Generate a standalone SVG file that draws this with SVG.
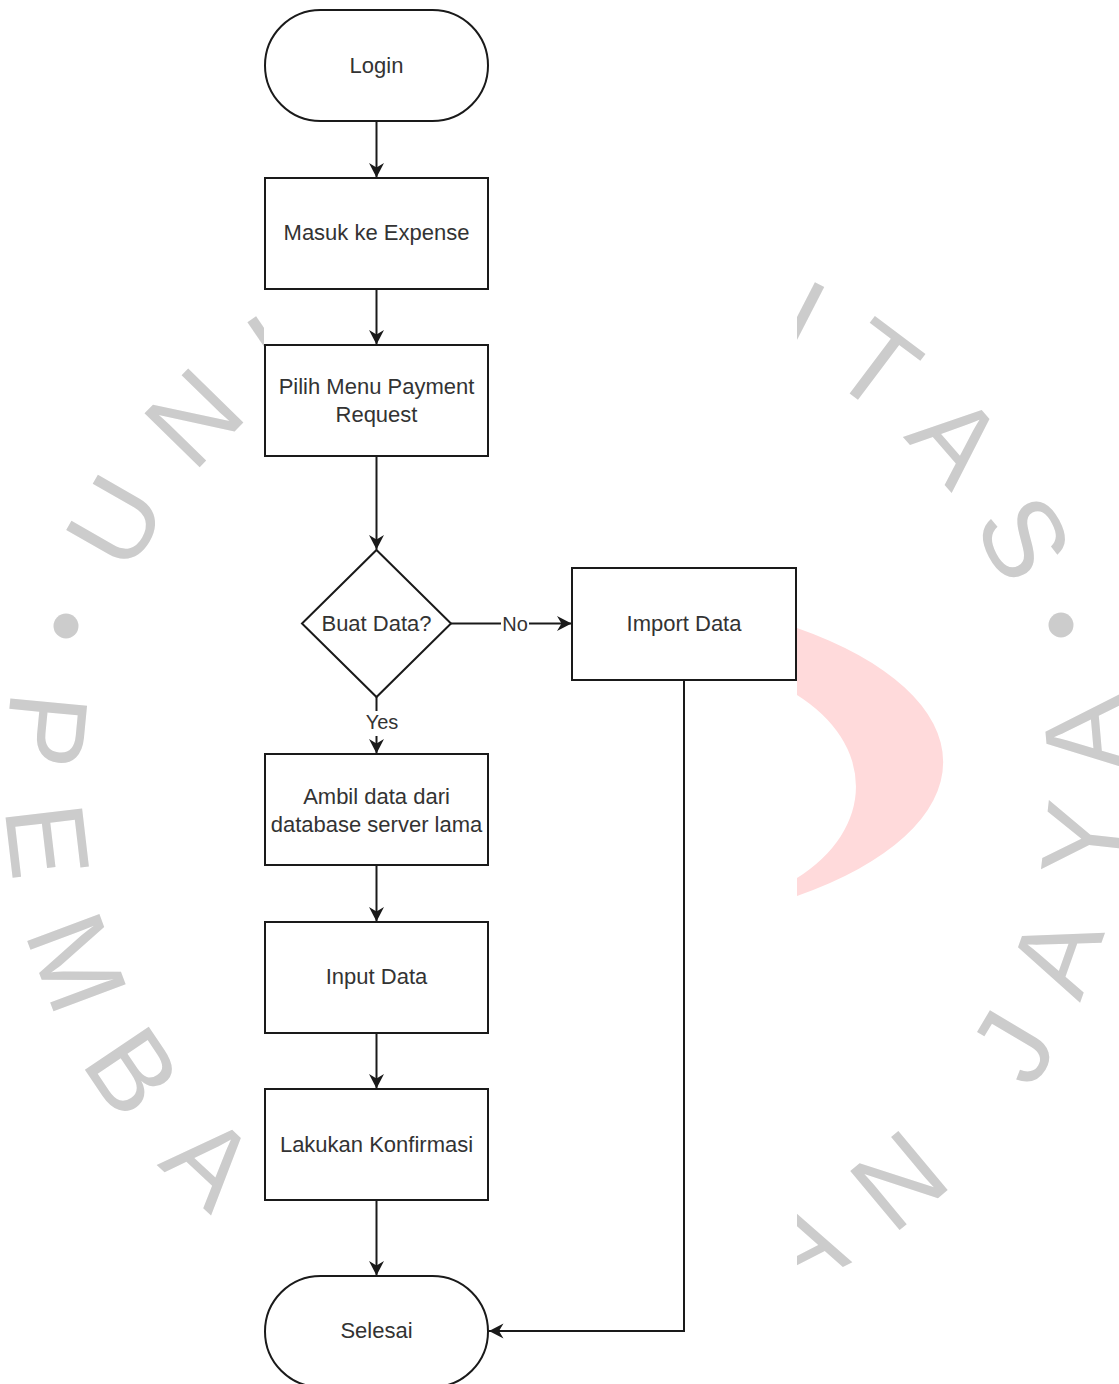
<svg xmlns="http://www.w3.org/2000/svg" width="1119" height="1384" viewBox="0 0 1119 1384">
<style>
.wm{font-family:"Liberation Sans",Arial,sans-serif;font-size:112px;fill:#cccccc;text-anchor:middle}
.node{fill:#ffffff;stroke:#1a1a1a;stroke-width:2}
.lbl{font-family:"Liberation Sans",Arial,Helvetica,sans-serif;font-size:22px;fill:#333333;text-anchor:middle}
.elbl{font-family:"Liberation Sans",Arial,Helvetica,sans-serif;font-size:20px;fill:#333333;text-anchor:middle}
.edge{fill:none;stroke:#1a1a1a;stroke-width:2}
.lblbg{fill:#ffffff;stroke:none}
</style>
<defs>
<marker id="arr" viewBox="-16 -9 18 18" refX="0" refY="0" markerWidth="18" markerHeight="18" markerUnits="userSpaceOnUse" orient="auto">
<path d="M0,0 L-14.5,-7.5 L-10,0 L-14.5,7.5 Z" fill="#1a1a1a"/>
</marker>
</defs>
<rect x="0" y="0" width="1119" height="1384" fill="#ffffff"/>
<g id="watermark">
<path d="M797 628 A380 170 0 0 1 797 896 L797 878 A185 125 0 0 0 797 695 Z" fill="#ffdadb"/>
<circle cx="1061" cy="625" r="12.5" fill="#cccccc"/>
<circle cx="66" cy="626" r="12.5" fill="#cccccc"/>
<text class="wm" transform="translate(114.2 520.8) rotate(-60.1)" y="40">U</text>
<text class="wm" transform="translate(192.8 416.8) rotate(-45.7)" y="40">N</text>
<text class="wm" transform="translate(272.7 349.9) rotate(-34.2)" y="40">I</text>
<text class="wm" transform="translate(802.7 317.5) rotate(27.2)" y="40">I</text>
<text class="wm" transform="translate(878 364.7) rotate(37)" y="40">T</text>
<text class="wm" transform="translate(957.4 438.8) rotate(49)" y="40">A</text>
<text class="wm" transform="translate(1025 537.5) rotate(62.2)" y="40">S</text>
<text class="wm" transform="translate(1083 734.7) rotate(-95)" y="40">A</text>
<text class="wm" transform="translate(1081.7 838.9) rotate(-83.5)" y="40">Y</text>
<text class="wm" transform="translate(1054.9 954.4) rotate(-70.4)" y="40">A</text>
<text class="wm" transform="translate(1011.7 1046.2) rotate(-59.2)" y="40">J</text>
<text class="wm" transform="translate(897.9 1179.5) rotate(-39.8)" y="40">N</text>
<text class="wm" transform="translate(801 1243.3) rotate(-27)" y="40">A</text>
<text class="wm" transform="translate(211 1160.9) rotate(42.9)" y="40">A</text>
<text class="wm" transform="translate(133.9 1070.8) rotate(56)" y="40">B</text>
<text class="wm" transform="translate(77.9 962.1) rotate(69.5)" y="40">M</text>
<text class="wm" transform="translate(48.5 840.7) rotate(83.3)" y="40">E</text>
<text class="wm" transform="translate(47.4 730.2) rotate(95.5)" y="40">P</text>
</g>
<rect x="264" y="0" width="533" height="1384" fill="#ffffff"/>
<g id="connectors">
<path class="edge" d="M376.5 121 V177.5" marker-end="url(#arr)"/>
<path class="edge" d="M376.5 289 V344.5" marker-end="url(#arr)"/>
<path class="edge" d="M376.5 456 V549.5" marker-end="url(#arr)"/>
<path class="edge" d="M376.5 697 V753.5" marker-end="url(#arr)"/>
<path class="edge" d="M451 623.5 H571.5" marker-end="url(#arr)"/>
<path class="edge" d="M376.5 865 V921.5" marker-end="url(#arr)"/>
<path class="edge" d="M376.5 1033 V1088.5" marker-end="url(#arr)"/>
<path class="edge" d="M376.5 1200 V1275.5" marker-end="url(#arr)"/>
<path class="edge" d="M684 680 V1331 H489" marker-end="url(#arr)"/>
<rect class="lblbg" x="364" y="711" width="36" height="25"/>
<text class="elbl" x="382" y="729">Yes</text>
<rect class="lblbg" x="501" y="613" width="28" height="22"/>
<text class="elbl" x="515" y="631">No</text>
</g>
<g id="login">
<rect class="node" x="265" y="10" width="223" height="111" rx="55.5" ry="55.5"/>
<text class="lbl" x="376.5" y="73">Login</text>
</g>
<g id="masuk">
<rect class="node" x="265" y="178" width="223" height="111"/>
<text class="lbl" x="376.5" y="240">Masuk ke Expense</text>
</g>
<g id="pilih">
<rect class="node" x="265" y="345" width="223" height="111"/>
<text class="lbl" x="376.5" y="394">Pilih Menu Payment</text>
<text class="lbl" x="376.5" y="422">Request</text>
</g>
<g id="buat">
<polygon class="node" points="376.5,550 451,623.5 376.5,697 302,623.5"/>
<text class="lbl" x="376.5" y="631">Buat Data?</text>
</g>
<g id="import">
<rect class="node" x="572" y="568" width="224" height="112"/>
<text class="lbl" x="684" y="631">Import Data</text>
</g>
<g id="ambil">
<rect class="node" x="265" y="754" width="223" height="111"/>
<text class="lbl" x="376.5" y="804">Ambil data dari</text>
<text class="lbl" x="376.5" y="832">database server lama</text>
</g>
<g id="input">
<rect class="node" x="265" y="922" width="223" height="111"/>
<text class="lbl" x="376.5" y="984">Input Data</text>
</g>
<g id="konfirmasi">
<rect class="node" x="265" y="1089" width="223" height="111"/>
<text class="lbl" x="376.5" y="1152">Lakukan Konfirmasi</text>
</g>
<g id="selesai">
<rect class="node" x="265" y="1276" width="223" height="111" rx="55.5" ry="55.5"/>
<text class="lbl" x="376.5" y="1338">Selesai</text>
</g>
</svg>
